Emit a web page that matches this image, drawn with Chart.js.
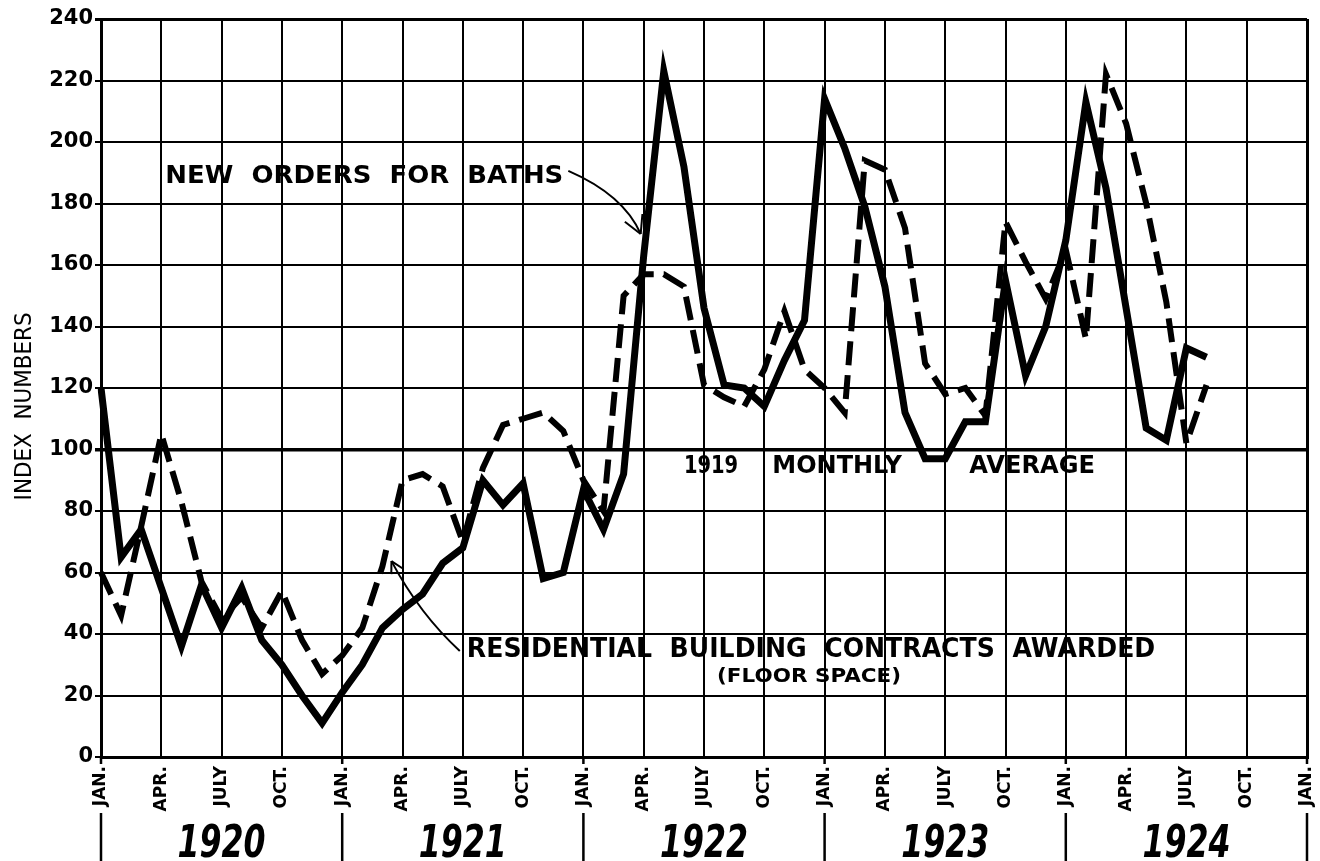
<!DOCTYPE html>
<html><head><meta charset="utf-8">
<script src="https://cdn.jsdelivr.net/npm/chart.js@4.4.1/dist/chart.umd.min.js"></script>
<style>html,body{margin:0;padding:0;background:#fff;}canvas{display:block;}</style>
</head><body>
<canvas id="c" width="1320" height="861"></canvas>
<script>
// ---- data ----
const years = [1920, 1921, 1922, 1923, 1924];
const monthNames = ['JAN.','FEB.','MAR.','APR.','MAY','JUNE','JULY','AUG.','SEPT.','OCT.','NOV.','DEC.'];
const categories = years.flatMap(y => monthNames.map(m => m + ' ' + y)).concat(['JAN. 1925']);
const quarterTickLabels = ['JAN.', 'APR.', 'JULY', 'OCT.'];
const yTickStep = 20;
const yMin = 0, yMax = 240;

// New orders for baths (solid), Jan 1920 - Aug 1924
const bathsOrders = [
  120, 65, 74, 55, 36, 56, 42, 55, 38, 30, 20, 11,
  21, 30, 42, 48, 53, 63, 68, 90, 82, 89, 58, 60,
  87, 74, 92, 163, 223, 192, 146, 121, 120, 114, 129, 142,
  214, 198, 179, 153, 112, 97, 97, 109, 109, 155, 124, 140,
  168, 213, 185, 146, 107, 103, 133, 130
];
// Residential building contracts awarded, floor space (dashed)
const residentialContracts = [
  60, 46, 75, 105, 83, 57, 45, 52, 42, 54, 38, 27,
  33, 42, 62, 90, 92, 88, 70, 94, 108, 110, 112, 106,
  90, 80, 150, 157, 157, 153, 121, 117, 114, 126, 145, 126,
  120, 112, 194, 191, 172, 128, 118, 120, 111, 174, 161, 149,
  165, 136, 222, 206, 180, 148, 102, 121
];
const averageLine = 100;

// annotations in data coordinates (month index, value)
const annotations = [
  {text: 'NEW  ORDERS  FOR  BATHS', m0: 3.2, m1: 23.0, v: 189.6, cap: 18, weight: 'bold'},
  {text: '1919', m0: 29.0, m1: 31.7, v: 95.3, cap: 18, weight: 'bold'},
  {text: 'MONTHLY', m0: 33.4, m1: 39.85, v: 95.3, cap: 18, weight: 'bold'},
  {text: 'AVERAGE', m0: 43.2, m1: 49.45, v: 95.3, cap: 18, weight: 'bold'},
  {text: 'RESIDENTIAL  BUILDING  CONTRACTS  AWARDED', m0: 18.2, m1: 52.45, v: 35.6, cap: 19, weight: 'bold'},
  {text: '(FLOOR SPACE)', m0: 30.65, m1: 39.8, v: 26.7, cap: 14, weight: 'bold'}
];
const arrows = [
  {from: [23.25, 190.6], ctrl: [26.0, 182.8], to: [26.85, 170.1], head: 20},
  {from: [17.85, 34.5], ctrl: [15.85, 46.5], to: [14.45, 63.7], head: 13}
];

const FAMILY = '"DejaVu Sans", "Liberation Sans", sans-serif';

function fitText(ctx, text, xl, xr, yc, capH, font) {
  const size = capH / 0.73;
  ctx.font = font.replace('SIZE', size.toFixed(1) + 'px');
  ctx.textBaseline = 'alphabetic';
  ctx.textAlign = 'left';
  const w = ctx.measureText(text).width;
  ctx.save();
  ctx.translate(xl, yc + capH / 2);
  ctx.scale((xr - xl) / w, 1);
  ctx.fillText(text, 0, 0);
  ctx.restore();
}

const decorPlugin = {
  id: 'decor',
  afterDraw(chart) {
    const ctx = chart.ctx;
    const xs = chart.scales.x, ys = chart.scales.y;
    const px = m => xs.getPixelForValue(m);
    const py = v => ys.getPixelForValue(v);
    const bottom = chart.chartArea.bottom;
    ctx.save();
    ctx.fillStyle = '#000';
    ctx.strokeStyle = '#000';
    // year separators below the axis (January positions)
    ctx.lineWidth = 2.5;
    for (let i = 0; i <= years.length; i++) {
      const x = px(i * 12);
      ctx.beginPath();
      ctx.moveTo(x, bottom);
      ctx.lineTo(x, bottom + 7);
      ctx.moveTo(x, bottom + 56);
      ctx.lineTo(x, chart.height);
      ctx.stroke();
    }
    // year labels
    years.forEach((y, i) => {
      const xa = px(i * 12), xb = px((i + 1) * 12);
      const cx = (xa + xb) / 2;
      fitText(ctx, String(y), cx - 44, cx + 44, 840, 33, 'italic bold SIZE ' + FAMILY);
    });
    // annotation texts
    annotations.forEach(a => {
      fitText(ctx, a.text, px(a.m0), px(a.m1), py(a.v), a.cap, a.weight + ' SIZE ' + FAMILY);
    });
    // arrows
    ctx.lineWidth = 2;
    arrows.forEach(a => {
      const p0 = [px(a.from[0]), py(a.from[1])];
      const c = [px(a.ctrl[0]), py(a.ctrl[1])];
      const p1 = [px(a.to[0]), py(a.to[1])];
      ctx.beginPath();
      ctx.moveTo(p0[0], p0[1]);
      ctx.quadraticCurveTo(c[0], c[1], p1[0], p1[1]);
      ctx.stroke();
      const dx = p1[0] - c[0], dy = p1[1] - c[1];
      const L = Math.hypot(dx, dy);
      const ux = -dx / L, uy = -dy / L;
      const ang = 0.5;
      [ang, -ang].forEach(t => {
        const rx = ux * Math.cos(t) - uy * Math.sin(t);
        const ry = ux * Math.sin(t) + uy * Math.cos(t);
        ctx.beginPath();
        ctx.moveTo(p1[0], p1[1]);
        ctx.lineTo(p1[0] + rx * a.head, p1[1] + ry * a.head);
        ctx.stroke();
      });
    });
    // y axis title
    ctx.save();
    ctx.translate(22, py(114));
    ctx.rotate(-Math.PI / 2);
    fitText(ctx, 'INDEX  NUMBERS', -94, 94, 0, 17, '500 SIZE ' + FAMILY);
    ctx.restore();
    ctx.restore();
  }
};

new Chart(document.getElementById('c'), {
  type: 'line',
  data: {
    labels: categories,
    datasets: [
      {
        label: 'New orders for baths',
        data: bathsOrders,
        borderColor: '#000',
        borderWidth: 7,
        pointRadius: 0,
        tension: 0,
        fill: false
      },
      {
        label: 'Residential building contracts awarded (floor space)',
        data: residentialContracts,
        borderColor: '#000',
        borderWidth: 6,
        borderDash: [24, 10],
        pointRadius: 0,
        tension: 0,
        fill: false
      }
    ]
  },
  options: {
    responsive: false,
    devicePixelRatio: 1,
    animation: false,
    layout: {padding: {top: 19, right: 13, left: 0, bottom: 0}},
    plugins: {legend: {display: false}, tooltip: {enabled: false}},
    scales: {
      x: {
        type: 'category',
        offset: false,
        afterFit(scale) {
          scale.height = 104;
          scale.paddingLeft = 0;
          scale.paddingRight = 0;
        },
        border: {display: true, color: '#000', width: 3},
        grid: {
          drawTicks: false,
          offset: false,
          color: c => (c.index % 3 === 0 ? '#000' : 'rgba(0,0,0,0)'),
          lineWidth: c => (c.index === 0 || c.index === categories.length - 1 ? 3 : 2)
        },
        ticks: {
          autoSkip: false,
          minRotation: 90,
          maxRotation: 90,
          padding: 9,
          color: '#000',
          font: {family: FAMILY, weight: 'bold', size: 17},
          callback: (v, i) => (i % 3 === 0 ? quarterTickLabels[(i % 12) / 3] : '')
        }
      },
      y: {
        min: yMin,
        max: yMax,
        afterFit(scale) {
          scale.width = 101;
          scale.paddingTop = 0;
          scale.paddingBottom = 0;
        },
        border: {display: true, color: '#000', width: 3},
        grid: {
          drawTicks: true,
          tickLength: 6,
          color: '#000',
          lineWidth: c => (c.tick && c.tick.value === averageLine ? 3.5 : (c.tick && c.tick.value === yMax ? 3 : 2))
        },
        ticks: {
          stepSize: yTickStep,
          padding: 2,
          color: '#000',
          font: {family: FAMILY, weight: 'bold', size: 21}
        }
      }
    }
  },
  plugins: [decorPlugin]
});
</script>
</body></html>
